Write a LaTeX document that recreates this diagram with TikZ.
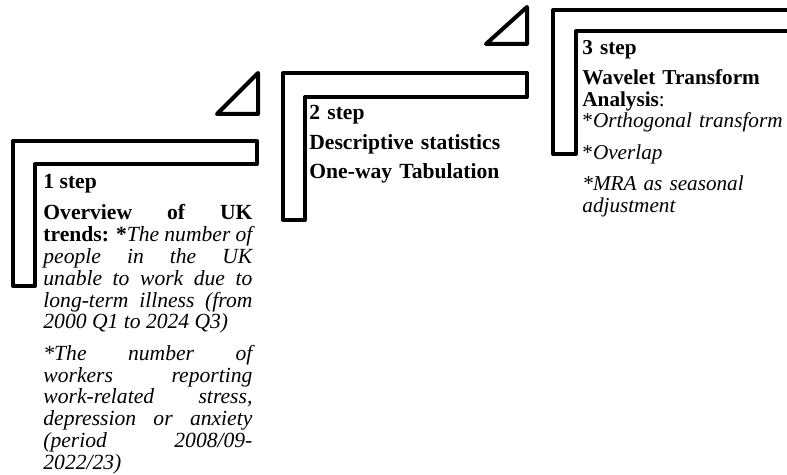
\documentclass[tikz,border=0pt]{standalone}
\usepackage{fontspec}
\setmainfont{Liberation Serif}
\newcommand\stepsetup{\lineskiplimit=-10pt\relax\tolerance=10000\relax\hyphenpenalty=10000\relax}
\begin{document}
\begin{tikzpicture}[x=0.5pt, y=-0.5pt,
    bar/.style={line width=2pt, line join=round},
    steptext/.style={anchor=base west, inner sep=0pt,
      font=\fontsize{10.8}{10.9}\selectfont}]
    \clip (0,0) rectangle (787,475);

    % Step 1: bracket and triangle
    \draw[bar] (13,141) -- (257,141) -- (257,164) -- (35,164) -- (35,286) -- (13,286) -- cycle;
    \draw[bar] (217,114) -- (258,73) -- (258,114) -- cycle;
    \node[steptext, text width=104.5pt, align=justify] (step1txt) at (43,189)
        {\stepsetup\textbf{1 step}\\[4.6pt]
         \textbf{Overview of UK\linebreak trends: *}\textit{The number of\linebreak people in the UK\linebreak unable to work due to\linebreak long-term illness (from\linebreak 2000 Q1 to 2024 Q3)}\\[4.8pt]
         \textit{{*}The number of\linebreak workers reporting\linebreak work-related stress,\linebreak depression or anxiety\linebreak (period 2008/09-\linebreak 2022/23)}};

    % Step 2: bracket and triangle
    \draw[bar] (283,73) -- (527,73) -- (527,97) -- (305,97) -- (305,220) -- (283,220) -- cycle;
    \draw[bar] (486,44) -- (527,7) -- (527,44) -- cycle;
    \node[steptext, text width=110pt, align=left] (step2txt) at (309,120)
        {\stepsetup\textbf{2 step}\\[4.1pt] \textbf{Descriptive statistics}\\[3.6pt] \textbf{One-way Tabulation}};

    % Step 3: bracket (runs off the right edge)
    \draw[bar] (553,10) -- (800,10) -- (800,31) -- (576,31) -- (576,154) -- (553,154) -- cycle;
    \node[steptext, text width=110pt, align=left, font=\fontsize{10.6}{10.7}\selectfont] (step3txt) at (582,55)
        {\stepsetup\textbf{3 step}\\[4.3pt]
         \textbf{Wavelet Transform}\\
         \textbf{Analysis}:\\
         {*}\textit{Orthogonal transform}\\[5.3pt]
         {*}\textit{Overlap}\\[4.8pt]
         \textit{{*}MRA as seasonal}\\
         \textit{adjustment}};
\end{tikzpicture}
\end{document}
